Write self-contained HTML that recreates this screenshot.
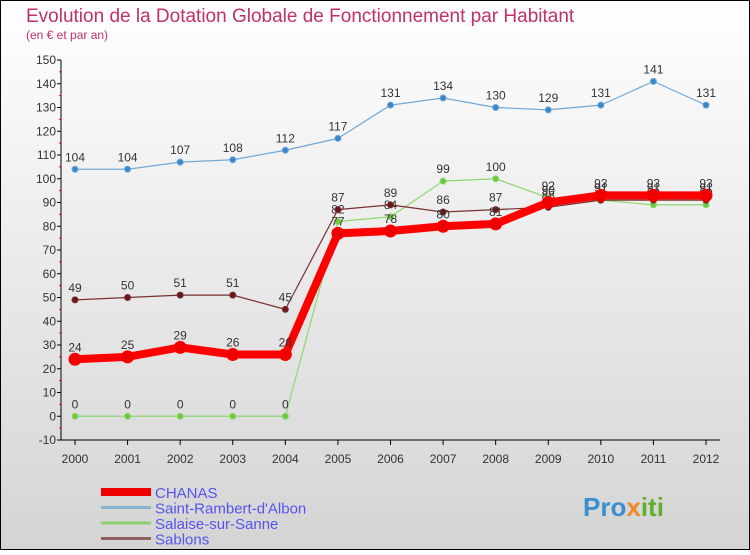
<!DOCTYPE html>
<html><head><meta charset="utf-8"><style>
body{margin:0}
svg text{font-family:"Liberation Sans",sans-serif}
</style></head><body>
<svg id="c" width="750" height="550" xmlns="http://www.w3.org/2000/svg">
<defs><linearGradient id="bg" x1="0" y1="0" x2="0" y2="1"><stop offset="0" stop-color="#ffffff"/><stop offset="1" stop-color="#d4d4d4"/></linearGradient></defs>
<rect x="0.5" y="0.5" width="749" height="549" fill="url(#bg)" stroke="#000"/>
<text x="26" y="22" font-size="19" fill="#c0306a">Evolution de la Dotation Globale de Fonctionnement par Habitant</text>
<text x="26" y="39" font-size="12" fill="#c0306a">(en € et par an)</text>
<g id="axes"></g><g id="series"></g><g id="legend"></g>
<text x="583" y="516" font-size="26" font-weight="bold" fill="#3a8fd0">Pro<tspan fill="#f08a20">x</tspan><tspan fill="#60b030">iti</tspan></text>
</svg>
<script>
const years=[2000,2001,2002,2003,2004,2005,2006,2007,2008,2009,2010,2011,2012];
const yTicks=[-10,0,10,20,30,40,50,60,70,80,90,100,110,120,130,140,150];
const chanas=[24,25,29,26,26,77,78,80,81,90,93,93,93];
const rambert=[104,104,107,108,112,117,131,134,130,129,131,141,131];
const salaise=[0,0,0,0,0,82,84,99,100,92,91,89,89];
const sablons=[49,50,51,51,45,87,89,86,87,88,91,91,91];
const NS="http://www.w3.org/2000/svg";
const X=i=>75+i*(706-75)/(years.length-1);
const Y=v=>60+(150-v)*(380/160);
function el(t,a,p){const e=document.createElementNS(NS,t);for(const k in a)e.setAttribute(k,a[k]);p.appendChild(e);return e;}
const ax=document.getElementById('axes');
const yl=el('line',{x1:61,y1:60,x2:61,y2:440,stroke:'#000'},ax);


const xl=el('line',{x1:61,y1:440,x2:720,y2:440,stroke:'#000'},ax);


yTicks.forEach(v=>{
 el('line',{x1:57,y1:Y(v),x2:61,y2:Y(v),stroke:'#000'},ax);
 if(v<150)el('line',{x1:59,y1:Y(v+5),x2:61,y2:Y(v+5),stroke:'#e00'},ax);
 const t=el('text',{x:56,y:Y(v)+4,'font-size':12,'text-anchor':'end',fill:'#333'},ax);
 t.textContent=v;
 
 
});
years.forEach((y,i)=>{
 el('line',{x1:X(i),y1:440,x2:X(i),y2:445,stroke:'#000'},ax);
 const t=el('text',{x:X(i),y:463,'font-size':12,'text-anchor':'middle',fill:'#333'},ax);
 t.textContent=y;
 
 
});
const sg=document.getElementById('series');
function series(data,color,dot,w,r,name){
 const g=el('g',{},sg);
 
 
 el('polyline',{points:data.map((v,i)=>X(i)+','+Y(v)).join(' '),fill:'none',stroke:color,'stroke-width':w,'stroke-linejoin':'round'},g);
 data.forEach((v,i)=>{
  const c=el('circle',{cx:X(i),cy:Y(v),r:r,fill:dot,stroke:color,'stroke-width':1},g);
  
  
  const t=el('text',{x:X(i),y:Y(v)-8,'font-size':12,'text-anchor':'middle',fill:'#333'},g);
  t.textContent=v;
  
  
 });
}
series(rambert,'#6fa8d8','#3a86c8',1.2,3,'saint-rambert');
series(salaise,'#8fd870','#6cc840',1.2,3,'salaise');
series(sablons,'#7a3030','#6a1818',1.2,3,'sablons');
series(chanas,'#ff0000','#ee0000',8,6,'chanas');
const lg=document.getElementById('legend');
const items=[['CHANAS','#ee0000',8],['Saint-Rambert-d\'Albon','#8ab4d0',3],['Salaise-sur-Sanne','#90d070',3],['Sablons','#906060',3]];
items.forEach((it,k)=>{
 const y=492+k*15.5;
 const g=el('g',{},lg);
 
 
 el('line',{x1:101,y1:y,x2:151,y2:y,stroke:it[1],'stroke-width':it[2]},g);
 const t=el('text',{x:155,y:y+6,'font-size':15,fill:'#5555ee'},g);
 t.textContent=it[0];
});
</script>
</body></html>
